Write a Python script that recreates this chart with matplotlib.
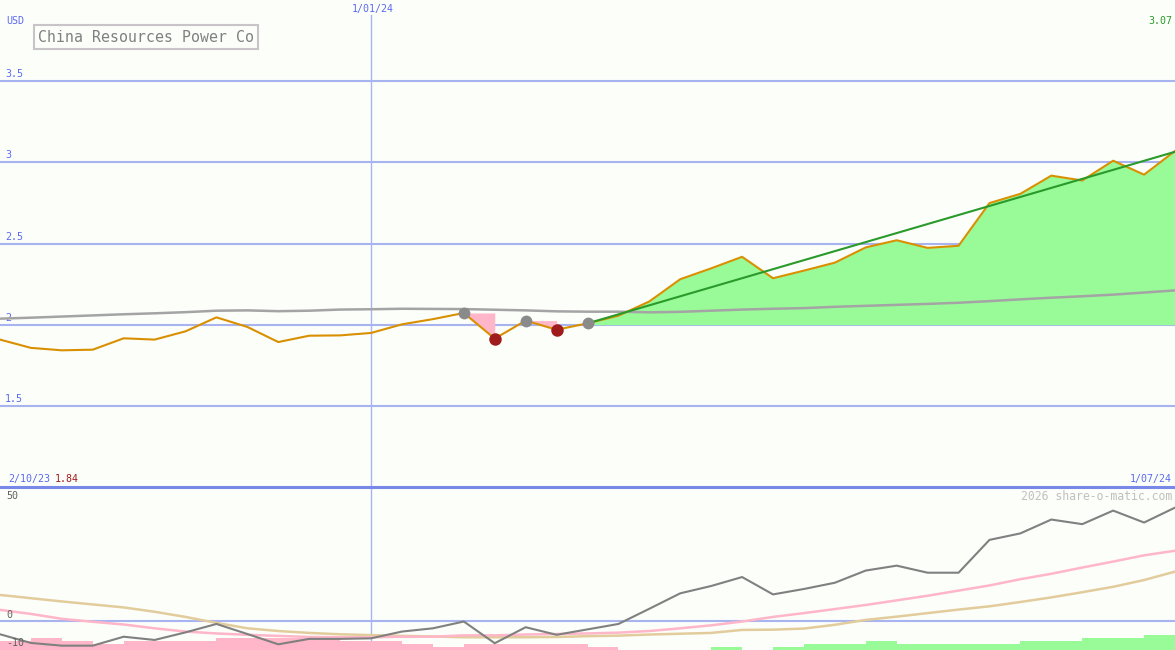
import matplotlib
matplotlib.use("Agg")
import matplotlib.pyplot as plt
import numpy as np
import pandas as pd

# ---------------- data ----------------
dates = pd.date_range("2023-10-09", periods=39, freq="7D")
price = [1.908, 1.857, 1.842, 1.846, 1.916, 1.908, 1.959, 2.045, 1.986, 1.893,
         1.932, 1.934, 1.949, 2.002, 2.034, 2.072, 1.914, 2.025, 1.969, 2.008,
         2.055, 2.143, 2.280, 2.347, 2.418, 2.286, 2.333, 2.382, 2.476, 2.520,
         2.473, 2.486, 2.749, 2.806, 2.918, 2.888, 3.010, 2.924, 3.070]
ma_long = [2.037, 2.043, 2.050, 2.057, 2.064, 2.070, 2.077, 2.086, 2.088, 2.083,
           2.086, 2.093, 2.095, 2.098, 2.097, 2.096, 2.092, 2.088, 2.082, 2.080,
           2.080, 2.076, 2.079, 2.086, 2.093, 2.098, 2.102, 2.110, 2.116, 2.122,
           2.128, 2.135, 2.145, 2.156, 2.166, 2.175, 2.185, 2.198, 2.211]
peak_idx = [15, 17, 19]
trough_idx = [16, 18]
rally_start = 19
rally_base = 2.0
trend_vals = [2.008, 3.065]

osc = [-4.8, -8.0, -9.0, -9.0, -5.7, -6.9, -4.1, -1.0, -4.7, -8.5,
       -6.5, -6.5, -6.3, -3.8, -2.6, -0.1, -8.1, -2.2, -5.0, -3.0,
       -1.0, 4.6, 10.3, 13.0, 16.3, 9.9, 11.9, 14.2, 18.7, 20.5,
       17.9, 17.9, 30.0, 32.4, 37.5, 35.8, 40.8, 36.4, 41.9]
osc_fast = [4.2, 2.7, 0.9, -0.2, -1.2, -2.6, -3.8, -4.5, -5.0, -5.4,
            -5.8, -5.9, -5.9, -5.7, -5.7, -5.2, -5.2, -4.9, -4.7, -4.5,
            -4.2, -3.6, -2.6, -1.5, -0.1, 1.6, 3.0, 4.5, 6.0, 7.7,
            9.4, 11.3, 13.2, 15.5, 17.5, 19.8, 22.0, 24.3, 26.0]
osc_slow = [9.7, 8.5, 7.3, 6.2, 5.1, 3.5, 1.6, -0.6, -2.6, -3.6,
            -4.3, -4.8, -5.1, -5.4, -5.6, -5.9, -5.9, -5.9, -5.8, -5.5,
            -5.3, -4.9, -4.6, -4.3, -3.2, -3.1, -2.7, -1.3, 0.5, 1.7,
            3.0, 4.3, 5.5, 7.1, 8.8, 10.7, 12.7, 15.2, 18.3]
# bar levels: negative = pink, positive = green (one per weekly interval)
bar_levels = [-3, -4, -3, -2, -3, -3, -3, -4, -4, -4,
              -4, -3, -3, -2, -1, -2, -2, -2, -2, -1,
              0, 0, 0, 1, 0, 1, 2, 2, 3, 2,
              2, 2, 2, 3, 3, 4, 4, 5]

price_ticks = [1.5, 2.0, 2.5, 3.0, 3.5]
price_tick_labels = ["1.5", "2", "2.5", "3", "3.5"]
osc_labels = ["50", "0", "-10"]
title = "China Resources Power Co"
marker_date = pd.Timestamp("2024-01-01")

# ---------------- style ----------------
W, H = 1175, 650
BG = "#fcfefa"
GRID = "#a8b4f0"
SEP = "#7888e8"
BLUE_TXT = "#5a6aee"
ORANGE = "#d99000"
GRAY_MA = "#a4a4a4"
GREEN_FILL = "#98fb98"
GREEN_LINE = "#2a9a2a"
PINK = "#ffb6c8"
DARKRED = "#a01c1c"
MONO = "DejaVu Sans Mono"
LBL = 7.2

fig = plt.figure(figsize=(W / 100, H / 100), dpi=100, facecolor=BG)
split = 487
ax = fig.add_axes([0, 1 - split / H, 1, split / H])
ax2 = fig.add_axes([0, 0, 1, 1 - split / H])
for a in (ax, ax2):
    a.set_facecolor(BG)
    a.set_axis_off()
    a.set_xlim(dates[0], dates[-1])

ax.set_ylim(1.0, 4.0)
ax2.set_ylim(-10.6, 49.5)

price = np.array(price)
# grid
for v in price_ticks:
    ax.axhline(v, color=GRID, lw=1.5, zorder=1)
for v, lab in zip(price_ticks, price_tick_labels):
    ax.annotate(lab, xy=(0, v), xycoords=("axes fraction", "data"),
                xytext=(5, 2), textcoords="offset pixels", va="bottom",
                ha="left", fontsize=LBL, color=BLUE_TXT, family=MONO)
ax.axvline(marker_date, color=GRID, lw=1.0, ymax=1 - 15 / split, zorder=1)
ax2.axvline(marker_date, color=GRID, lw=1.0, zorder=1)

# drawdown fills
for p, t in zip(peak_idx, trough_idx):
    ax.fill_between(dates[p:t + 1], price[p], price[p:t + 1], color=PINK,
                    lw=0, zorder=2)
# rally fill
ax.fill_between(dates[rally_start:], rally_base, price[rally_start:],
                color=GREEN_FILL, lw=0, zorder=2)
ax.plot(dates, ma_long, color=GRAY_MA, lw=1.8, zorder=3)
ax.plot(dates, price, color=ORANGE, lw=1.5, zorder=4)
ax.plot([dates[rally_start], dates[-1]], trend_vals, color=GREEN_LINE,
        lw=1.5, zorder=5)
ax.plot(dates[peak_idx], price[peak_idx], "o", color="#8a8a8a", ms=8.5,
        mec="none", zorder=6)
ax.plot(dates[trough_idx], price[trough_idx], "o", color=DARKRED, ms=9,
        mec="none", zorder=6)

# separator
ax2.axhline(49.5, color=SEP, lw=2.2, zorder=8, clip_on=False)

# lower panel
ax2.axhline(0, color=GRID, lw=1.5, zorder=1)
unit = 1.1
ybot = -10.6
lv = np.array(bar_levels, dtype=float)
cols = [PINK if v < 0 else GREEN_FILL for v in lv]
ax2.bar(dates[:-1], np.abs(lv) * unit, bottom=ybot, width=7, align="edge",
        color=cols, lw=0, zorder=2)
ax2.plot(dates, osc_slow, color="#e2cc9c", lw=1.8, zorder=3)
ax2.plot(dates, osc_fast, color="#ffb6c8", lw=1.8, zorder=3)
ax2.plot(dates, osc, color="#808080", lw=1.5, zorder=4)


def ftext(x, y, s, **kw):
    kw.setdefault("family", MONO)
    kw.setdefault("fontsize", LBL)
    fig.text(x / W, 1 - y / H, s, va="center", **kw)


ftext(6, 21, "USD", color=BLUE_TXT)
ftext(373, 9, "1/01/24", color=BLUE_TXT, ha="center")
ftext(1172, 21, "3.07", color=GREEN_LINE, ha="right")
ftext(8, 479, "2/10/23", color=BLUE_TXT)
ftext(55, 479, "1.84", color=DARKRED)
ftext(1172, 479, "1/07/24", color=BLUE_TXT, ha="right")
ftext(1172, 496, "2026 share-o-matic.com", color="#c0c0c0", ha="right",
      fontsize=8.3)
ftext(6, 496, osc_labels[0], color="#606060")
ftext(6, 615, osc_labels[1], color="#606060")
ftext(6, 643, osc_labels[2], color="#606060")
ftext(38, 37, title, color="#808080", fontsize=10.7,
      bbox=dict(boxstyle="square,pad=0.3", fc="none", ec="#c8c4c8", lw=1.5))

fig.savefig("out.png", dpi=100, facecolor=BG)
